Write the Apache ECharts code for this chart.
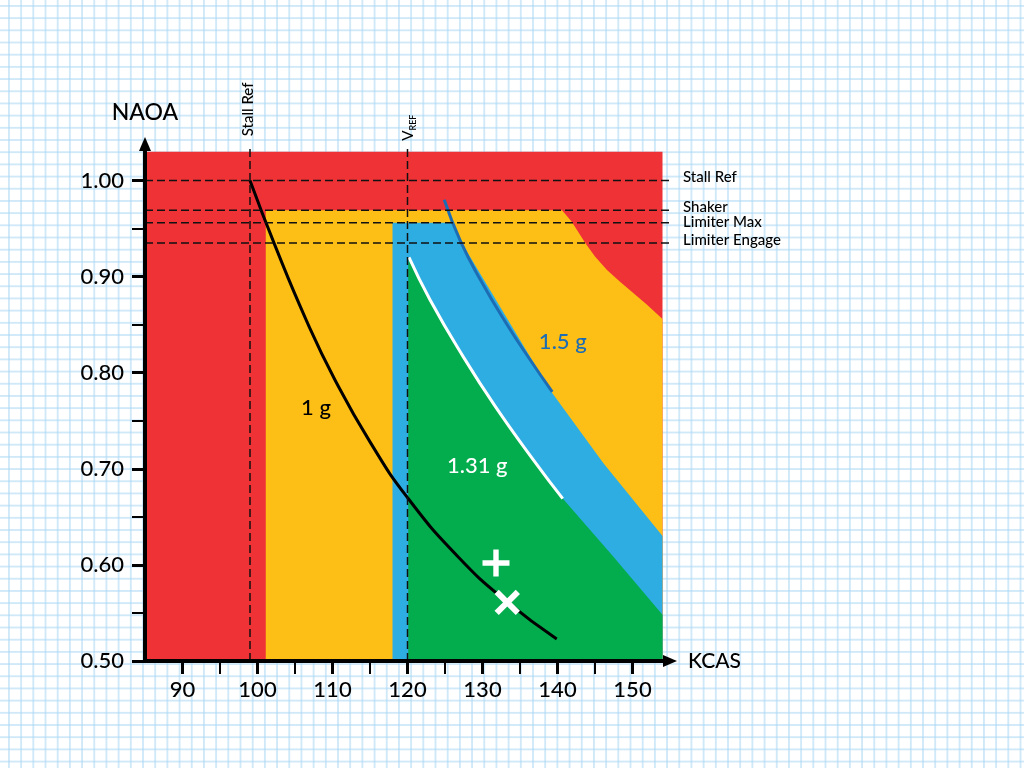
<!DOCTYPE html>
<html>
<head>
<meta charset="utf-8">
<title>NAOA vs KCAS</title>
<script src="https://cdn.jsdelivr.net/npm/echarts@6/dist/echarts.min.js"></script>
<style>
  html, body { margin: 0; padding: 0; }
  body {
    width: 1024px; height: 768px; overflow: hidden;
    background-color: #fff;
    /* graph paper */
    background-image:
      linear-gradient(to right, rgba(170, 215, 244, 0.55) 2px, transparent 2px),
      linear-gradient(to bottom, rgba(170, 215, 244, 0.55) 2px, transparent 2px);
    background-size: 12.2px 12.2px;
    background-position: 8px 5px;
  }
  #chart { width: 1024px; height: 768px; }
</style>
</head>
<body>
<div id="chart"></div>
<script>
// Axis ticks
const kcasMajor = [90, 100, 110, 120, 130, 140, 150];
const kcasMinor = [95, 105, 115, 125, 135, 145];
const naoaMajor = [0.5, 0.6, 0.7, 0.8, 0.9, 1.0];
const naoaMinor = [0.55, 0.65, 0.75, 0.85, 0.95];

// Envelope regions [KCAS, NAOA]
const redZone = [[85, 0.5], [85, 1.03], [154, 1.03], [154, 0.5]];
const yellowZone = [[101.1, 0.5], [101.1, 0.969], [140.6, 0.969], [141.9, 0.957], [143.7, 0.935],
  [145.0, 0.921], [146.6, 0.907], [148.3, 0.895], [150.1, 0.883], [151.9, 0.871], [154, 0.856], [154, 0.5]];
const blueZone = [[118, 0.5], [118, 0.956], [125.9, 0.956], [127.4, 0.933], [131.0, 0.886],
  [135.0, 0.834], [139.0, 0.782], [146.1, 0.706], [154, 0.630], [154, 0.5]];
const greenZone = [[120.1, 0.5], [120.1, 0.914], [120.2, 0.920], [123.0, 0.876], [127.4, 0.817],
  [131.7, 0.765], [137.0, 0.707], [140.7, 0.669], [147.4, 0.609], [154, 0.548], [154, 0.5]];

// Load factor lines
const oneG = [[99.0, 1.000], [102.3, 0.933], [106.6, 0.853], [110.3, 0.793], [115.0, 0.728],
  [120.0, 0.670], [126.8, 0.608], [133.2, 0.562], [139.9, 0.523]];
const g131 = [[120.2, 0.920], [123.0, 0.876], [127.4, 0.817], [131.7, 0.765], [137.0, 0.707], [140.7, 0.669]];
const g15 = [[124.9, 0.980], [127.0, 0.938], [129.7, 0.897], [133.2, 0.851], [136.3, 0.814], [139.3, 0.780]];

// Reference levels
const refLevels = [1.0, 0.969, 0.956, 0.935];
const refNames = ['Stall Ref', 'Shaker', 'Limiter Max', 'Limiter Engage'];
const refSpeeds = [99, 120];
const refSpeedNames = ['Stall Ref', '{v|V}{s|REF}'];

// Test points
const plusPoint = [[131.8, 0.602]];
const crossPoint = [[133.3, 0.561]];

// Annotation anchors (data units)
const curveLabelText = ['1 g', '1.31 g', '1.5 g'];
const curveLabelAt = [[107.8, 0.763], [129.3, 0.703], [140.7, 0.832]];
const speedLabelAt = [[98.8, 1.074], [120.1, 1.055]];

const FONT = "Lato, 'Noto Sans', sans-serif";
const C = { red: '#ee3236', yellow: '#fdbe16', blue: '#2eade2', green: '#03ad4e', dark: '#1d6db5' };

const chart = echarts.init(document.getElementById('chart'), null, { renderer: 'canvas' });

function zone(name, pts, color) {
  return {
    name, type: 'custom', silent: true, z: 1,
    data: [pts[0]],
    renderItem: (params, api) => ({
      type: 'polygon',
      shape: { points: pts.map(p => api.coord(p)) },
      style: { fill: color }
    })
  };
}

function curve(data, color) {
  return {
    type: 'line', data, smooth: 0.5, symbol: 'none', silent: true, z: 3,
    lineStyle: { color, width: 3 }
  };
}

function dashed(data) {
  return {
    type: 'line', data, silent: true, symbol: 'none', z: 5,
    lineStyle: { color: '#111', width: 1.5, type: [8, 4] }
  };
}

const plusPath = 'path://M-1,-5H1V-1H5V1H1V5H-1V1H-5V-1H-1Z';
const labelShift = [-3.5, -3.5, -1, -2.5];
const solid = { opacity: 1 };
const W = 500;

const series = [
  zone('red', redZone, C.red),
  zone('yellow', yellowZone, C.yellow),
  zone('blue', blueZone, C.blue),
  zone('green', greenZone, C.green),
  curve(g15, C.dark),
  curve(g131, '#fff'),
  curve(oneG, '#000'),
  ...refLevels.map(y => dashed([[85, y], [155, y]])),
  ...refSpeeds.map(x => dashed([[x, 0.5], [x, 1.034]])),
  {
    // right-hand level labels
    type: 'scatter', symbolSize: 0, silent: true, clip: false, z: 6, itemStyle: solid,
    data: refLevels.map((y, i) => ({
      value: [155, y],
      label: { formatter: refNames[i], offset: [0, labelShift[i]] }
    })),
    label: { show: true, position: 'right', distance: 13, color: '#000', fontSize: 15, fontWeight: W, fontFamily: FONT }
  },
  {
    // rotated speed labels
    type: 'scatter', symbolSize: 0, silent: true, clip: false, z: 6, itemStyle: solid,
    data: speedLabelAt.map((p, i) => ({ value: p, label: { formatter: refSpeedNames[i] } })),
    label: {
      show: true, position: 'inside', rotate: 90, color: '#000', fontSize: 15, fontWeight: W, fontFamily: FONT,
      rich: {
        v: { fontSize: 15, lineHeight: 18, color: '#000', fontWeight: W, fontFamily: FONT },
        s: { fontSize: 9, lineHeight: 18, verticalAlign: 'bottom', color: '#000', fontWeight: W, fontFamily: FONT }
      }
    }
  },
  {
    type: 'scatter', symbolSize: 0, silent: true, clip: false, z: 6, itemStyle: solid,
    data: curveLabelAt.map((p, i) => ({
      value: p,
      label: { formatter: curveLabelText[i], color: ['#000', '#fff', C.dark][i] }
    })),
    label: { show: true, position: 'inside', fontSize: 22, fontWeight: W, fontFamily: FONT }
  },
  {
    type: 'scatter', data: plusPoint, symbol: plusPath, symbolSize: 27, silent: true, z: 6,
    itemStyle: { color: '#fff', opacity: 1 }
  },
  {
    type: 'scatter', data: crossPoint, symbol: plusPath, symbolRotate: 45, symbolSize: 30, silent: true, z: 6,
    itemStyle: { color: '#fff', opacity: 1 }
  }
];

const axisLineStyle = { color: '#000', width: 4 };
const tickText = { color: '#000', fontSize: 22, fontWeight: W, fontFamily: FONT };

const option = {
  animation: false,
  grid: { left: 145, right: 354, top: 144, bottom: 107, containLabel: false, outerBoundsMode: 'none' },
  xAxis: [
    {
      type: 'value', min: 85, max: 155, position: 'bottom', z: 10,
      axisLine: { show: true, onZero: false, symbol: ['none', 'triangle'], symbolSize: [12, 14], lineStyle: axisLineStyle },
      axisTick: { show: true, customValues: kcasMajor, length: 13, lineStyle: { color: '#000', width: 3 } },
      axisLabel: Object.assign({ customValues: kcasMajor, margin: 18 }, tickText),
      splitLine: { show: false },
      name: 'KCAS', nameLocation: 'end', nameGap: 18,
      nameTextStyle: { fontSize: 21, color: '#000', fontWeight: W, fontFamily: FONT, align: 'left', verticalAlign: 'middle' }
    },
    {
      type: 'value', min: 85, max: 155, position: 'bottom', z: 10,
      axisLine: { show: false },
      axisTick: { show: true, customValues: kcasMinor, length: 13, lineStyle: { color: '#000', width: 2 } },
      axisLabel: { show: false },
      splitLine: { show: false }
    }
  ],
  yAxis: [
    {
      type: 'value', min: 0.5, max: 1.038, position: 'left', z: 10,
      axisLine: { show: true, onZero: false, symbol: ['none', 'triangle'], symbolSize: [12, 14], lineStyle: axisLineStyle },
      axisTick: { show: true, customValues: naoaMajor, length: 13, lineStyle: { color: '#000', width: 3 } },
      axisLabel: Object.assign({ customValues: naoaMajor, margin: 21, formatter: v => v.toFixed(2) }, tickText),
      splitLine: { show: false },
      name: 'NAOA', nameLocation: 'end', nameGap: 20,
      nameTextStyle: { fontSize: 23, color: '#000', fontWeight: W, fontFamily: FONT }
    },
    {
      type: 'value', min: 0.5, max: 1.038, position: 'left', z: 10,
      axisLine: { show: false },
      axisTick: { show: true, customValues: naoaMinor, length: 13, lineStyle: { color: '#000', width: 2 } },
      axisLabel: { show: false },
      splitLine: { show: false }
    }
  ],
  series
};

chart.setOption(option);
window.addEventListener('resize', () => chart.resize());
</script>
</body>
</html>
